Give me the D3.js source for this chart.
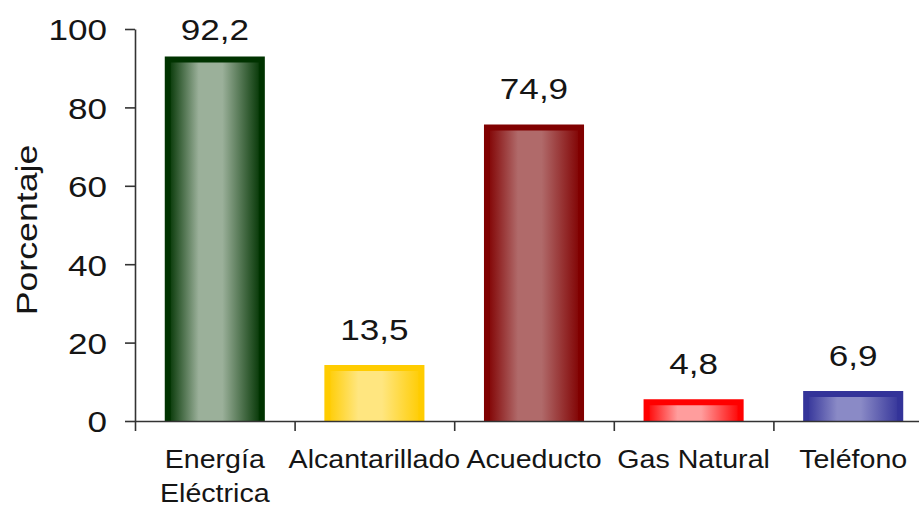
<!DOCTYPE html>
<html>
<head>
<meta charset="utf-8">
<script src="https://cdn.jsdelivr.net/npm/d3@7"></script>
<style>
  html, body { margin: 0; padding: 0; background: #fff; }
  svg text { font-family: "Liberation Sans", Arial, Helvetica, sans-serif; fill: #151515; }
</style>
</head>
<body>
<div id="chart"></div>
<script>
var categories = [["Energía", "Eléctrica"], ["Alcantarillado"], ["Acueducto"], ["Gas Natural"], ["Teléfono"]];
var values = [92.2, 13.5, 74.9, 4.8, 6.9];
var yTicks = [0, 20, 40, 60, 80, 100];
var edgeColors = ["#003300", "#ffcc00", "#800000", "#ff0000", "#333399"];
var lightColors = ["#9bb09a", "#ffe680", "#b06a6a", "#ff9d9d", "#8a8ac6"];

var width = 919, height = 507;
var margin = {top: 29, right: -14, bottom: 86, left: 135};

var svg = d3.select("#chart").append("svg")
    .attr("width", width)
    .attr("height", height);

var x = d3.scaleBand()
    .domain(d3.range(values.length))
    .range([margin.left, width - margin.right])
    .paddingInner(0.373)
    .paddingOuter(0.1865);

var xb = d3.scaleLinear()
    .domain([0, values.length])
    .range([margin.left, width - margin.right]);

var y = d3.scaleLinear()
    .domain([0, 100])
    .range([height - margin.bottom, margin.top]);

var defs = svg.append("defs");
values.forEach(function(v, i) {
    var g = defs.append("linearGradient")
        .attr("id", "grad" + i)
        .attr("x1", "0%").attr("x2", "100%")
        .attr("y1", "0%").attr("y2", "0%");
    g.append("stop").attr("offset", "0%").attr("stop-color", edgeColors[i]);
    g.append("stop").attr("offset", "33%").attr("stop-color", lightColors[i]);
    g.append("stop").attr("offset", "58%").attr("stop-color", lightColors[i]);
    g.append("stop").attr("offset", "100%").attr("stop-color", edgeColors[i]);
});

var sw = 6;
var bars = svg.append("g").selectAll("g")
    .data(values)
    .enter().append("g");

bars.append("rect")
    .attr("x", function(d, i) { return x(i) + sw / 2; })
    .attr("width", x.bandwidth() - sw)
    .attr("y", function(d) { return y(d); })
    .attr("height", function(d) { return y(0) - y(d); })
    .attr("fill", function(d, i) { return "url(#grad" + i + ")"; });

// border on top and sides only
bars.append("path")
    .attr("d", function(d, i) {
        var x0 = x(i) + sw / 2, x1 = x(i) + x.bandwidth() - sw / 2;
        return "M" + x0 + "," + y(0) + "V" + y(d) + "H" + x1 + "V" + y(0);
    })
    .attr("fill", "none")
    .attr("stroke", function(d, i) { return edgeColors[i]; })
    .attr("stroke-width", sw)
    .attr("stroke-linejoin", "miter");

// value labels
svg.append("g").selectAll("text")
    .data(values)
    .enter().append("text")
    .attr("text-anchor", "middle")
    .attr("font-size", 30)
    .attr("transform", function(d, i) {
        var ty = Math.max(y(d) - 28, 40);
        return "translate(" + (x(i) + x.bandwidth() / 2) + "," + ty + ") scale(1.17,1)";
    })
    .text(function(d) { return d.toFixed(1).replace(".", ","); });

// y axis
var yAxis = svg.append("g")
    .attr("transform", "translate(" + margin.left + ",0)")
    .call(d3.axisLeft(y).tickValues(yTicks).tickSize(10).tickSizeOuter(0).tickPadding(0));
yAxis.selectAll("line, path").attr("stroke", "#333").attr("stroke-width", 1.6);
yAxis.selectAll("text")
    .attr("font-size", 30)
    .attr("font-family", null)
    .attr("x", null)
    .attr("dy", "0.36em")
    .attr("transform", "translate(-28,0) scale(1.17,1)");

// x axis (ticks on category boundaries)
var xAxis = svg.append("g")
    .attr("transform", "translate(0," + y(0) + ")")
    .call(d3.axisBottom(xb).tickValues(d3.range(values.length + 1)).tickSize(10).tickSizeOuter(0).tickFormat(""));
xAxis.selectAll("line, path").attr("stroke", "#333").attr("stroke-width", 1.6);

// category labels
var cat = svg.append("g").selectAll("text")
    .data(categories)
    .enter().append("text")
    .attr("text-anchor", "middle")
    .attr("font-size", 26)
    .attr("transform", function(d, i) {
        return "translate(" + (x(i) + x.bandwidth() / 2) + ",468) scale(1.1,1)";
    });
cat.selectAll("tspan")
    .data(function(d) { return d; })
    .enter().append("tspan")
    .attr("x", 0)
    .attr("dy", function(d, j) { return j === 0 ? 0 : 34; })
    .text(function(d) { return d; });

// y title
svg.append("text")
    .attr("text-anchor", "middle")
    .attr("font-size", 30)
    .attr("transform", "translate(37,230) rotate(-90) scale(1.19,1)")
    .text("Porcentaje");
</script>
</body>
</html>
